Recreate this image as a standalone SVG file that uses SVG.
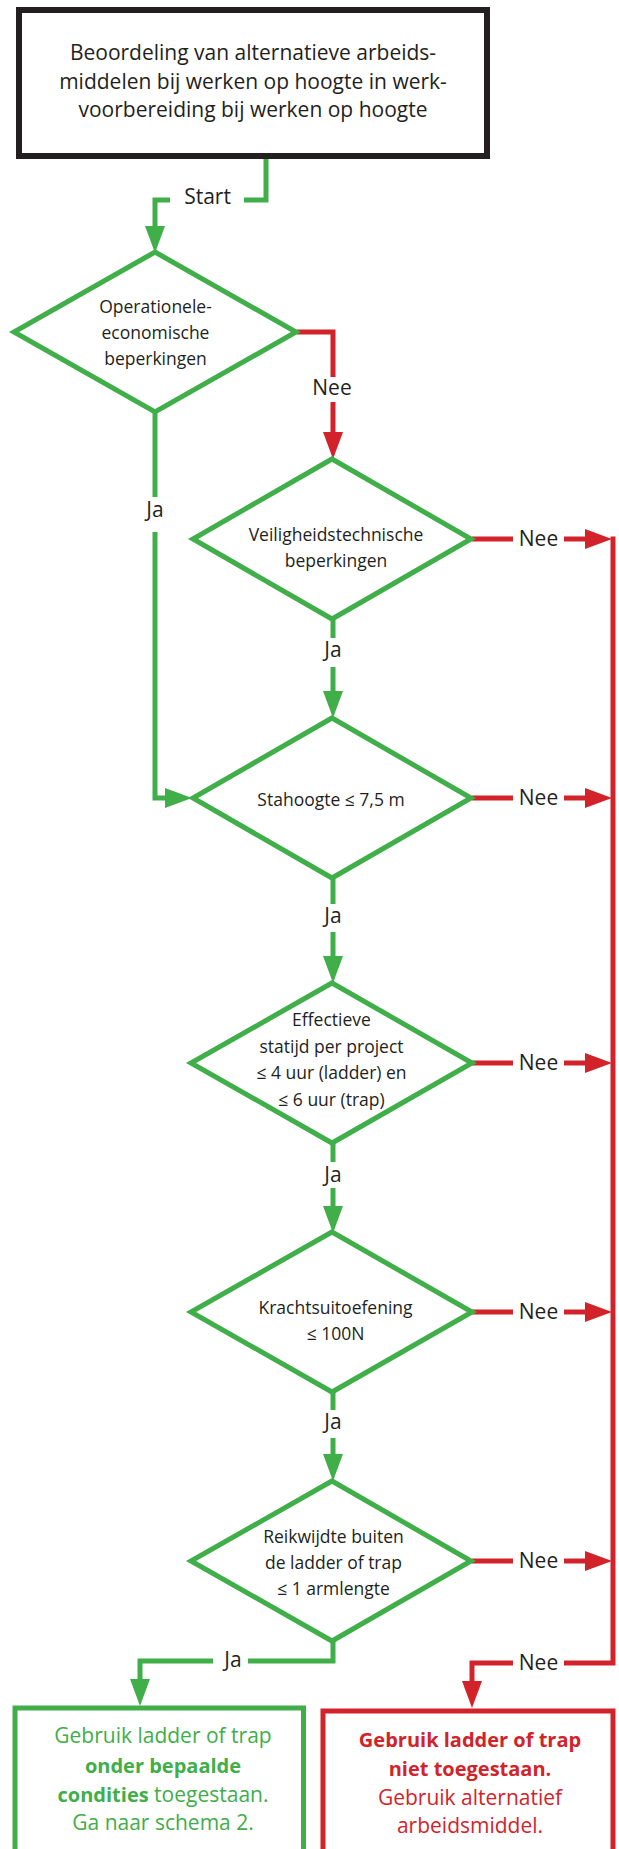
<svg xmlns="http://www.w3.org/2000/svg" width="619" height="1849" viewBox="0 0 619 1849">
<style>
.bg{fill:#ffffff}
.dia{fill:#ffffff;stroke:#40ae49;stroke-width:5;stroke-linejoin:miter}
.g{fill:none;stroke:#40ae49;stroke-width:5;stroke-linejoin:miter}
.r{fill:none;stroke:#d2232a;stroke-width:5;stroke-linejoin:miter}
.t{font-family:"Open Sans","Liberation Sans",sans-serif;fill:#231f20;text-anchor:middle}
.lbl{font-size:21px}
.dt{font-size:17.5px}
.tgreen{font-family:"Open Sans","Liberation Sans",sans-serif;fill:#40ae49;text-anchor:middle;font-size:21px}
.tred{font-family:"Open Sans","Liberation Sans",sans-serif;fill:#d2232a;text-anchor:middle;font-size:21px}
.b{font-weight:700;font-size:20px}
</style>
<defs>
<marker id="ag" viewBox="0 0 27 20" refX="0" refY="10" markerWidth="27" markerHeight="20" markerUnits="userSpaceOnUse" orient="auto"><path d="M0,0 L27,10 L0,20 z" fill="#40ae49"/></marker>
<marker id="ar" viewBox="0 0 27 20" refX="0" refY="10" markerWidth="27" markerHeight="20" markerUnits="userSpaceOnUse" orient="auto"><path d="M0,0 L27,10 L0,20 z" fill="#d2232a"/></marker>
</defs>
<rect class="bg" x="0" y="0" width="619" height="1849"/>

<g id="connectors">
<path class="g" d="M266,158 V200 H244"/>
<path class="g" d="M170,200 H155 V226" marker-end="url(#ag)"/>
<path class="g" d="M155,412 V497"/>
<path class="g" d="M155,532 V798 H165" marker-end="url(#ag)"/>
<path class="g" d="M333,619 V638"/>
<path class="g" d="M333,667 V691" marker-end="url(#ag)"/>
<path class="g" d="M333,878 V904"/>
<path class="g" d="M333,932 V956" marker-end="url(#ag)"/>
<path class="g" d="M333,1143 V1162"/>
<path class="g" d="M333,1188 V1206" marker-end="url(#ag)"/>
<path class="g" d="M333,1392 V1410"/>
<path class="g" d="M333,1438 V1454" marker-end="url(#ag)"/>
<path class="g" d="M333,1641 V1661 H248"/>
<path class="g" d="M213,1661 H140 V1679" marker-end="url(#ag)"/>

<path class="r" d="M297,332 H333 V377"/>
<path class="r" d="M333,402 V432" marker-end="url(#ar)"/>
<path class="r" d="M472,539 H513"/>
<path class="r" d="M564,539 H585" marker-end="url(#ar)"/>
<path class="r" d="M472,798 H513"/>
<path class="r" d="M564,798 H585" marker-end="url(#ar)"/>
<path class="r" d="M472,1063 H513"/>
<path class="r" d="M564,1063 H585" marker-end="url(#ar)"/>
<path class="r" d="M472,1312 H513"/>
<path class="r" d="M564,1312 H585" marker-end="url(#ar)"/>
<path class="r" d="M472,1561 H513"/>
<path class="r" d="M564,1561 H585" marker-end="url(#ar)"/>
<path class="r" d="M613,536.5 V1663 H564"/>
<path class="r" d="M513,1663 H472 V1681" marker-end="url(#ar)"/>

<text class="t lbl" x="207.5" y="204">Start</text>
<text class="t lbl" x="155" y="517">Ja</text>
<text class="t lbl" x="332" y="395">Nee</text>
<text class="t lbl" x="333" y="657">Ja</text>
<text class="t lbl" x="333" y="923">Ja</text>
<text class="t lbl" x="333" y="1182">Ja</text>
<text class="t lbl" x="333" y="1429">Ja</text>
<text class="t lbl" x="538.5" y="546">Nee</text>
<text class="t lbl" x="538.5" y="805">Nee</text>
<text class="t lbl" x="538.5" y="1070">Nee</text>
<text class="t lbl" x="538.5" y="1319">Nee</text>
<text class="t lbl" x="538.5" y="1568">Nee</text>
<text class="t lbl" x="233" y="1667">Ja</text>
<text class="t lbl" x="538.5" y="1670">Nee</text>
</g>

<g id="start-box">
<rect x="19" y="10" width="468" height="146" fill="#ffffff" stroke="#231f20" stroke-width="6"/>
<text class="t lbl" x="253" y="60">Beoordeling van alternatieve arbeids-</text>
<text class="t lbl" x="253" y="88.5">middelen bij werken op hoogte in werk-</text>
<text class="t lbl" x="253" y="117">voorbereiding bij werken op hoogte</text>
</g>

<g id="d1">
<polygon class="dia" points="155,252 296,332 155,412 14,332"/>
<text class="t dt" x="155.5" y="313">Operationele-</text>
<text class="t dt" x="155.5" y="339">economische</text>
<text class="t dt" x="155.5" y="365">beperkingen</text>
</g>

<g id="d2">
<polygon class="dia" points="332,459 471,539 332,619 193,539"/>
<text class="t dt" x="336" y="541">Veiligheidstechnische</text>
<text class="t dt" x="336" y="567">beperkingen</text>
</g>

<g id="d3">
<polygon class="dia" points="332,718 471,798 332,878 193,798"/>
<text class="t dt" x="331" y="806">Stahoogte ≤ 7,5 m</text>
</g>

<g id="d4">
<polygon class="dia" points="332,983 472,1063 332,1143 191,1063"/>
<text class="t dt" x="331.5" y="1026">Effectieve</text>
<text class="t dt" x="331.5" y="1053">statijd per project</text>
<text class="t dt" x="331.5" y="1079">≤ 4 uur (ladder) en</text>
<text class="t dt" x="331.5" y="1106">≤ 6 uur (trap)</text>
</g>

<g id="d5">
<polygon class="dia" points="332,1232 472,1312 332,1392 191,1312"/>
<text class="t dt" x="335.5" y="1314">Krachtsuitoefening</text>
<text class="t dt" x="335.5" y="1340">≤ 100N</text>
</g>

<g id="d6">
<polygon class="dia" points="332,1481 471,1561 332,1641 191,1561"/>
<text class="t dt" x="333.5" y="1543">Reikwijdte buiten</text>
<text class="t dt" x="333.5" y="1569">de ladder of trap</text>
<text class="t dt" x="333.5" y="1595">≤ 1 armlengte</text>
</g>

<g id="result-yes">
<rect x="15" y="1708" width="288.5" height="170" fill="#ffffff" stroke="#40ae49" stroke-width="5"/>
<text class="tgreen" x="163" y="1743">Gebruik ladder of trap</text>
<text class="tgreen b" x="163" y="1773">onder bepaalde</text>
<text class="tgreen" x="163" y="1802"><tspan class="b">condities</tspan> toegestaan.</text>
<text class="tgreen" x="163" y="1830">Ga naar schema 2.</text>
</g>

<g id="result-no">
<rect x="323" y="1711" width="290" height="170" fill="#ffffff" stroke="#d2232a" stroke-width="5"/>
<text class="tred b" x="470" y="1747">Gebruik ladder of trap</text>
<text class="tred b" x="470" y="1776">niet toegestaan.</text>
<text class="tred" x="470" y="1805">Gebruik alternatief</text>
<text class="tred" x="470" y="1833">arbeidsmiddel.</text>
</g>
</svg>
